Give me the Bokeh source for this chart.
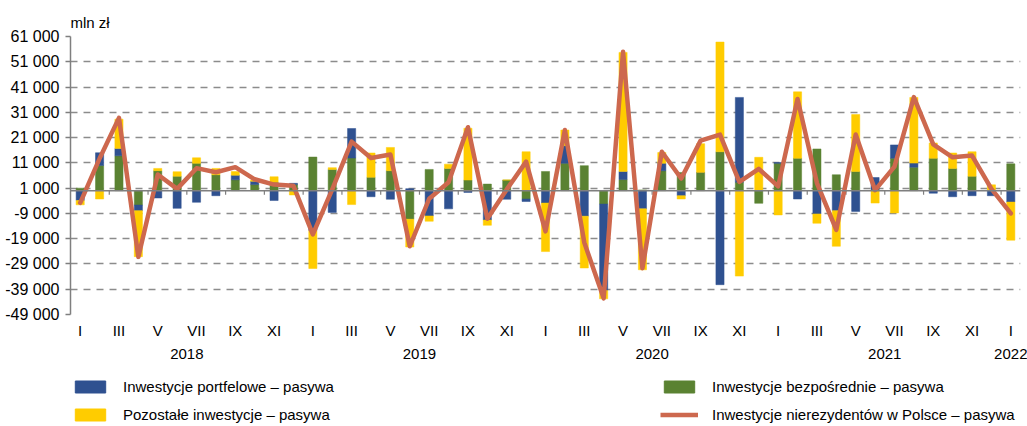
import numpy as np
from bokeh.plotting import figure
from bokeh.layouts import column
from bokeh.models import (ColumnDataSource, FixedTicker, LinearAxis, Span,
                          Legend, LegendItem, Range1d)
from bokeh.embed import file_html
from bokeh.resources import INLINE

# ---- data (mln zł), monthly Jan 2018 .. Jan 2022 ----
months = list(range(49))
roman = ["I", "II", "III", "IV", "V", "VI", "VII", "VIII", "IX", "X", "XI", "XII"]
years = ["2018", "2019", "2020", "2021", "2022"]

direct = [1000, 10000, 13800, -5700, 7900, 5700, 10800, 6300, 4300, 2400, 3300, 2400,
          13300, 8400, 12900, 5300, 7900, -11300, 8400, 8800, 4200, 2600, 4200, -3300,
          7600, 10800, 9900, -5300, 4400, 300, 7900, 7200, 7200, 15400, 3300, -5000,
          10800, 12800, 16500, 6300, 7600, 500, 12800, 9300, 12800, 8800, 5700, 300,
          10600]
portfolio = [-3900, 5000, 2900, -2200, -2900, -7000, -4600, -2000, 1800, 1300, -3900, 500,
             -15800, -8600, 11700, -2400, -3400, 800, -10000, -7200, -700, -11600, -3400, -1000,
             -4900, 7000, -10100, -34200, 3200, -7200, 2900, -2000, 0, -37200, 33600, 0,
             300, -3300, -9200, -7900, -8200, 4700, 5300, 1600, -1000, -2400, -2000, -2000,
             -4500]
other = [-1700, -3300, 11600, -18200, 900, 1800, 2200, 2500, 1500, 500, 2200, -1700,
         -15000, 700, -5500, 9600, 9200, -11000, -2100, 1700, 20500, -2100, 0, 15400,
         -19200, 6200, -20500, -3300, 47100, -24100, 4300, -1300, 11400, 43400, -33800, 13200,
         -9600, 26300, -3700, -14100, 22500, -4900, -8800, 26000, 6100, 6100, 9700, 2000,
         -15100]
total = [-4800, 12700, 28800, -26200, 6400, 700, 8900, 7300, 9300, 4500, 2400, 1900,
         -17300, 500, 19400, 12900, 14300, -22000, -3200, 3300, 25100, -11100, 500, 11500,
         -16100, 24000, -20500, -42600, 55000, -30700, 15400, 4800, 19800, 22200, 3500, 8600,
         1700, 36300, 3000, -15500, 22200, 200, 9500, 37000, 18300, 13200, 13900, 700,
         -9000]

y_ticks = list(range(-49000, 61001, 10000))

names = ["Inwestycje portfelowe – pasywa", "Pozostałe inwestycje – pasywa",
         "Inwestycje bezpośrednie – pasywa", "Inwestycje nierezydentów w Polsce – pasywa"]
C_BLUE, C_YELLOW, C_GREEN, C_LINE = "#2F5190", "#FFCC00", "#5A8232", "#CD684E"

FONT = "'Liberation Sans', Arial, sans-serif"

# ---- stacking: order from zero outward = direct, portfolio, other ----
series = [np.array(direct, float), np.array(portfolio, float), np.array(other, float)]
pos_base = np.zeros(len(months))
neg_base = np.zeros(len(months))
stacks = []
for s in series:
    bottom = np.where(s >= 0, pos_base, neg_base)
    top = bottom + s
    pos_base = np.where(s >= 0, top, pos_base)
    neg_base = np.where(s < 0, top, neg_base)
    stacks.append((bottom, top))

p = figure(width=1027, height=364, output_backend="svg", toolbar_location=None,
           x_range=Range1d(-0.5, 48.5), y_range=Range1d(-49000, 61000),
           x_axis_location=None, min_border_left=70, min_border_right=7,
           min_border_top=36, min_border_bottom=50)
p.outline_line_color = None
p.background_fill_color = "white"
p.xgrid.visible = False

# unit label as title
p.title.text = "mln zł"
p.title.align = "left"
p.title.text_font = FONT
p.title.text_font_size = "15px"
p.title.text_font_style = "normal"
p.title.text_color = "#000000"
p.title.standoff = 12

# y axis
p.yaxis.ticker = FixedTicker(ticks=y_ticks)
p.yaxis.major_label_overrides = {t: f"{t:,}".replace(",", " ") for t in y_ticks}
p.yaxis.axis_line_color = "#7f7f7f"
p.yaxis.axis_line_width = 1.5
p.yaxis.major_tick_line_color = "#7f7f7f"
p.yaxis.major_tick_line_width = 1.5
p.yaxis.major_tick_out = 5
p.yaxis.major_tick_in = 0
p.yaxis.minor_tick_line_color = None
p.yaxis.major_label_standoff = 6
p.yaxis.major_label_text_font = FONT
p.yaxis.major_label_text_font_size = "16px"
p.yaxis.major_label_text_color = "#000000"

p.ygrid.ticker = FixedTicker(ticks=y_ticks)
p.ygrid.grid_line_color = "#8c8c8c"
p.ygrid.grid_line_width = 1.5
p.ygrid.grid_line_dash = "7 6"

# x axes (month roman numerals and years)
ax_m = LinearAxis(ticker=FixedTicker(ticks=months[::2]),
                  major_label_overrides={m: roman[m % 12] for m in months[::2]})
ax_y = LinearAxis(ticker=FixedTicker(ticks=[5.5, 17.5, 29.5, 41.5, 48]),
                  major_label_overrides={5.5: years[0], 17.5: years[1], 29.5: years[2],
                                         41.5: years[3], 48: years[4]})
for ax, standoff in ((ax_m, 7), (ax_y, 7)):
    ax.axis_line_color = None
    ax.major_tick_line_color = None
    ax.minor_tick_line_color = None
    ax.major_tick_out = 0
    ax.major_tick_in = 0
    ax.major_label_standoff = standoff
    ax.major_label_text_font = FONT
    ax.major_label_text_font_size = "15px"
    ax.major_label_text_color = "#000000"
p.add_layout(ax_m, "below")
p.add_layout(ax_y, "below")

# bars
W = 0.42
src = ColumnDataSource(dict(x=months,
                            b0=stacks[0][0], t0=stacks[0][1],
                            b1=stacks[1][0], t1=stacks[1][1],
                            b2=stacks[2][0], t2=stacks[2][1]))
p.vbar(x="x", bottom="b0", top="t0", width=W, source=src,
       fill_color=C_GREEN, line_color=C_GREEN, line_width=0.5)
p.vbar(x="x", bottom="b1", top="t1", width=W, source=src,
       fill_color=C_BLUE, line_color=C_BLUE, line_width=0.5)
p.vbar(x="x", bottom="b2", top="t2", width=W, source=src,
       fill_color=C_YELLOW, line_color=C_YELLOW, line_width=0.5)

# zero line with small tick marks
p.add_layout(Span(location=0, dimension="width", line_color="#7f7f7f", line_width=1.5))
tick_x = [m + 1.5 for m in months[:-1:2]]
p.segment(x0=tick_x, x1=tick_x, y0=[0] * len(tick_x), y1=[-1600] * len(tick_x),
          line_color="#7f7f7f", line_width=1.2)

# total line
p.line(months, total, line_color=C_LINE, line_width=4.5,
       line_join="round", line_cap="round")

# ---- legend strip (separate figure below the chart, frame aligned with chart) ----
lg = figure(width=1027, height=62, output_backend="svg", toolbar_location=None,
            x_range=Range1d(0, 1), y_range=Range1d(0, 1),
            x_axis_location=None, y_axis_location=None,
            min_border_left=70, min_border_right=7, min_border_top=0, min_border_bottom=0)
lg.outline_line_color = None
lg.grid.visible = False
# proxy glyphs placed fully outside the visible ranges, so only legend swatches show
e_blue = lg.vbar(x=[-10], bottom=[-20], top=[-19], width=0.1,
                 fill_color=C_BLUE, line_color=C_BLUE)
e_yellow = lg.vbar(x=[-10], bottom=[-20], top=[-19], width=0.1,
                   fill_color=C_YELLOW, line_color=C_YELLOW)
e_green = lg.vbar(x=[-10], bottom=[-20], top=[-19], width=0.1,
                  fill_color=C_GREEN, line_color=C_GREEN)
e_line = lg.line(x=[-10, -9], y=[-20, -20], line_color=C_LINE, line_width=4.5)


def make_legend(items, x):
    leg = Legend(items=items, location=(x, 3), orientation="vertical",
                 glyph_width=38, glyph_height=15, label_height=18, spacing=10,
                 label_standoff=14, padding=0, margin=0,
                 border_line_alpha=0, background_fill_alpha=0,
                 label_text_font=FONT, label_text_font_size="15px",
                 label_text_color="#000000")
    lg.add_layout(leg, "center")


make_legend([LegendItem(label=names[0], renderers=[e_blue]),
             LegendItem(label=names[1], renderers=[e_yellow])], 1)
make_legend([LegendItem(label=names[2], renderers=[e_green]),
             LegendItem(label=names[3], renderers=[e_line])], 590)

layout = column(p, lg, spacing=0)
open("out.html", "w").write(file_html(layout, INLINE))
